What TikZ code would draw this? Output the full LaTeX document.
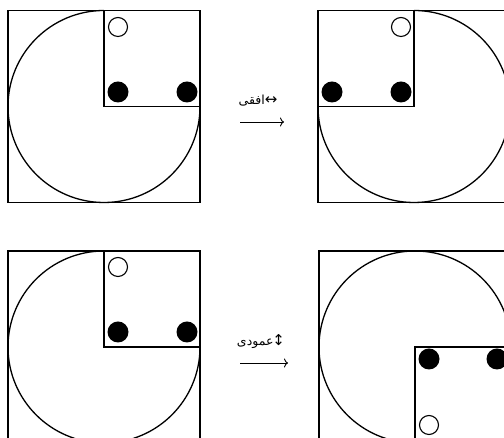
\documentclass[tikz,border=0pt]{standalone}
\usepackage{fontspec}
\usetikzlibrary{arrows.meta}
\newfontfamily\arabicfont[Script=Arabic]{DejaVu Sans}
\newfontfamily\symbfont{DejaVu Sans}
\TeXXeTstate=1
\begin{document}
\begin{tikzpicture}[x=1pt,y=1pt,line width=1.3pt,
  outline/.style={draw=black,line width=1.3pt},
  hole/.style={draw=black,fill=white,line width=1.1pt},
  dot/.style={fill=black,draw=none},
  maparrow/.style={-{To[length=4pt,width=9pt]},line width=0.9pt},
  lab/.style={inner sep=0pt,font=\fontsize{12.5}{14}\selectfont}]
\useasboundingbox (0,0) rectangle (504,438);
\begin{scope}
\clip (0,0) rectangle (504,438);
% top-left
\draw[outline] (8,235.5) rectangle (200,427.5);
\draw[outline] (104,331.5) rectangle (200,427.5);
\draw[outline] (104,427.5) arc[start angle=90,end angle=360,radius=96];
\draw[hole] (118,411) circle (9.5);
\fill[dot] (118,346) circle (10.5);
\fill[dot] (187,346) circle (10.5);
% top-right
\draw[outline] (318,235.5) rectangle (510,427.5);
\draw[outline] (318,331.5) rectangle (414,427.5);
\draw[outline] (414,427.5) arc[start angle=90,end angle=-180,radius=96];
\draw[hole] (401,411) circle (9.5);
\fill[dot] (332,346) circle (10.5);
\fill[dot] (401,346) circle (10.5);
% bottom-left
\draw[outline] (8,-5) rectangle (200,187);
\draw[outline] (104,91) rectangle (200,187);
\draw[outline] (104,187) arc[start angle=90,end angle=360,radius=96];
\draw[hole] (118,171) circle (9.5);
\fill[dot] (118,106) circle (10.5);
\fill[dot] (187,106) circle (10.5);
% bottom-right
\draw[outline] (319,-5) rectangle (511,187);
\draw[outline] (415,-5) rectangle (511,91);
\draw[outline] (511,91) arc[start angle=0,end angle=270,radius=96];
\draw[hole] (429,13) circle (9.5);
\fill[dot] (429,79) circle (10.5);
\fill[dot] (497,79) circle (10.5);
\end{scope}
% arrows and labels
\coordinate (a1s) at (240,316);
\coordinate (a1e) at (284,316);
\coordinate (a2s) at (240,75);
\coordinate (a2e) at (288,75);
\draw[maparrow] (a1s) -- (a1e);
\draw[maparrow] (a2s) -- (a2e);
\node[lab] (l1) at (258,337) {\arabicfont\beginR افقی\endR{}\symbfont\fontsize{15}{16}\selectfont ↔};
\node[lab] (l2) at (261,96) {\arabicfont\beginR عمودی\endR{}\symbfont\fontsize{15}{16}\selectfont\kern-1pt ↕};
\end{tikzpicture}
\end{document}
